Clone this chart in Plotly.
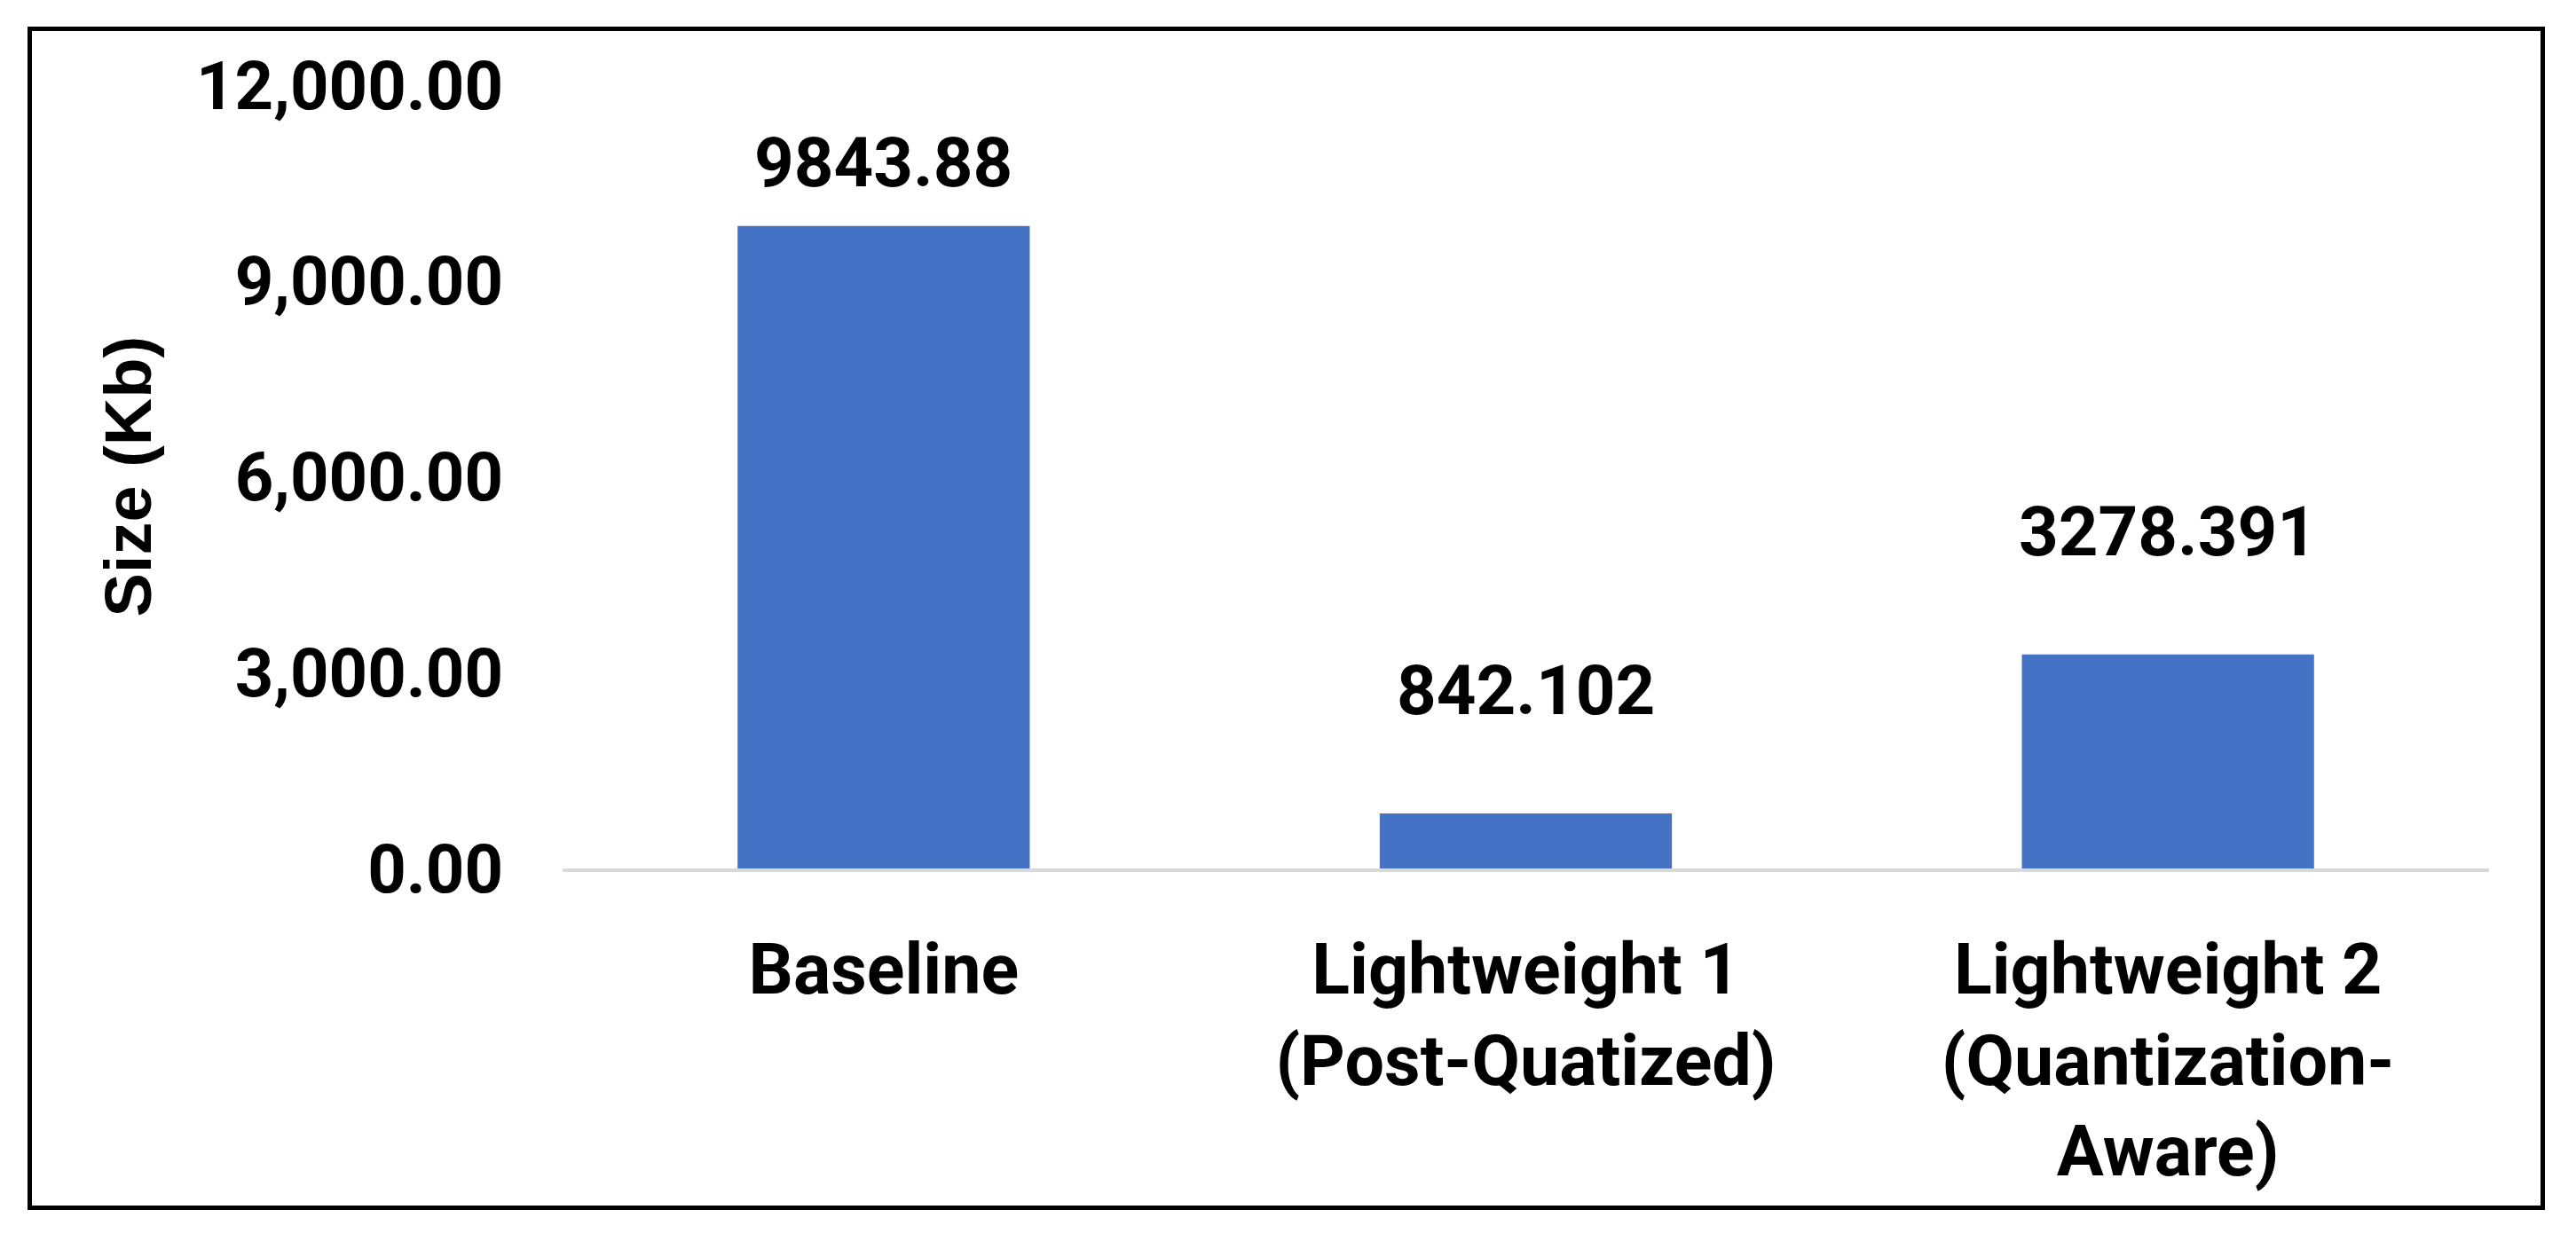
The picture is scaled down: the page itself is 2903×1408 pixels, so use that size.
import plotly.graph_objects as go


# ======================================
# DATA
# ======================================

categories = [
    "Baseline",
    "Lightweight 1<br>(Post-Quatized)",
    "Lightweight 2<br>(Quantization-<br>Aware)",
]
sizes_kb = [9843.88, 842.102, 3278.391]
y_ticks = [0, 3000, 6000, 9000, 12000]


# ======================================
# PAGE GEOMETRY (pixels)
# ======================================

W, H = 2903, 1408
plot_left, plot_right = 634, 2805
plot_top, plot_bottom = 96, 979
plot_w = plot_right - plot_left
plot_h = plot_bottom - plot_top


def px_x(px):
    return (px - plot_left) / plot_w


def px_y(py):
    return (plot_bottom - py) / plot_h


BAR_BLUE = "#4472C4"
NUM_FONT = "Roboto, 'Liberation Sans', Arial, sans-serif"
TITLE_FONT = "'Liberation Sans', Arial, sans-serif"

fig = go.Figure()

fig.add_trace(go.Bar(
    x=categories,
    y=sizes_kb,
    marker=dict(color=BAR_BLUE, line=dict(width=0)),
    showlegend=False,
    hoverinfo="x+y",
))

# =========================
# DATA LABELS
# =========================

label_gap = [24, 91, 91]

for cat, val, gap in zip(categories, sizes_kb, label_gap):
    fig.add_annotation(
        x=cat,
        y=val,
        text=str(val),
        showarrow=False,
        yanchor="bottom",
        yshift=gap,
        font=dict(family=NUM_FONT, size=78, color="black", weight="bold"),
    )

# =========================
# AXIS TITLE
# =========================

fig.add_annotation(
    xref="paper", yref="paper",
    x=px_x(144), y=0.5,
    text="Size (Kb)",
    textangle=-90,
    showarrow=False,
    xanchor="center", yanchor="middle",
    font=dict(family=TITLE_FONT, size=74, color="black", weight="bold"),
)

# =========================
# FRAME
# =========================

fig.add_shape(
    type="rect",
    xref="paper", yref="paper",
    x0=px_x(33.5), x1=px_x(2865.5),
    y0=px_y(1361.5), y1=px_y(32.5),
    line=dict(color="black", width=5),
    fillcolor="rgba(0,0,0,0)",
    layer="above",
)

# =========================
# STYLE
# =========================

fig.update_layout(
    width=W,
    height=H,
    margin=dict(l=plot_left, r=W - plot_right, t=plot_top, b=H - plot_bottom, pad=0),
    paper_bgcolor="white",
    plot_bgcolor="white",
    bargap=0.545,
    xaxis=dict(
        showline=True,
        linecolor="#D9D9D9",
        linewidth=4,
        showgrid=False,
        ticks="",
        ticklabelstandoff=42,
        tickfont=dict(family=NUM_FONT, size=79, color="black", weight="bold"),
    ),
    yaxis=dict(
        range=[0, 12000],
        tickvals=y_ticks,
        tickformat=",.2f",
        showgrid=False,
        zeroline=False,
        showline=False,
        ticks="",
        ticklabelstandoff=66,
        tickfont=dict(family=NUM_FONT, size=76, color="black", weight="bold"),
    ),
)

fig.write_html(
    "out.html",
    config={"displayModeBar": False},
    post_script="document.body.style.margin='0';",
)
